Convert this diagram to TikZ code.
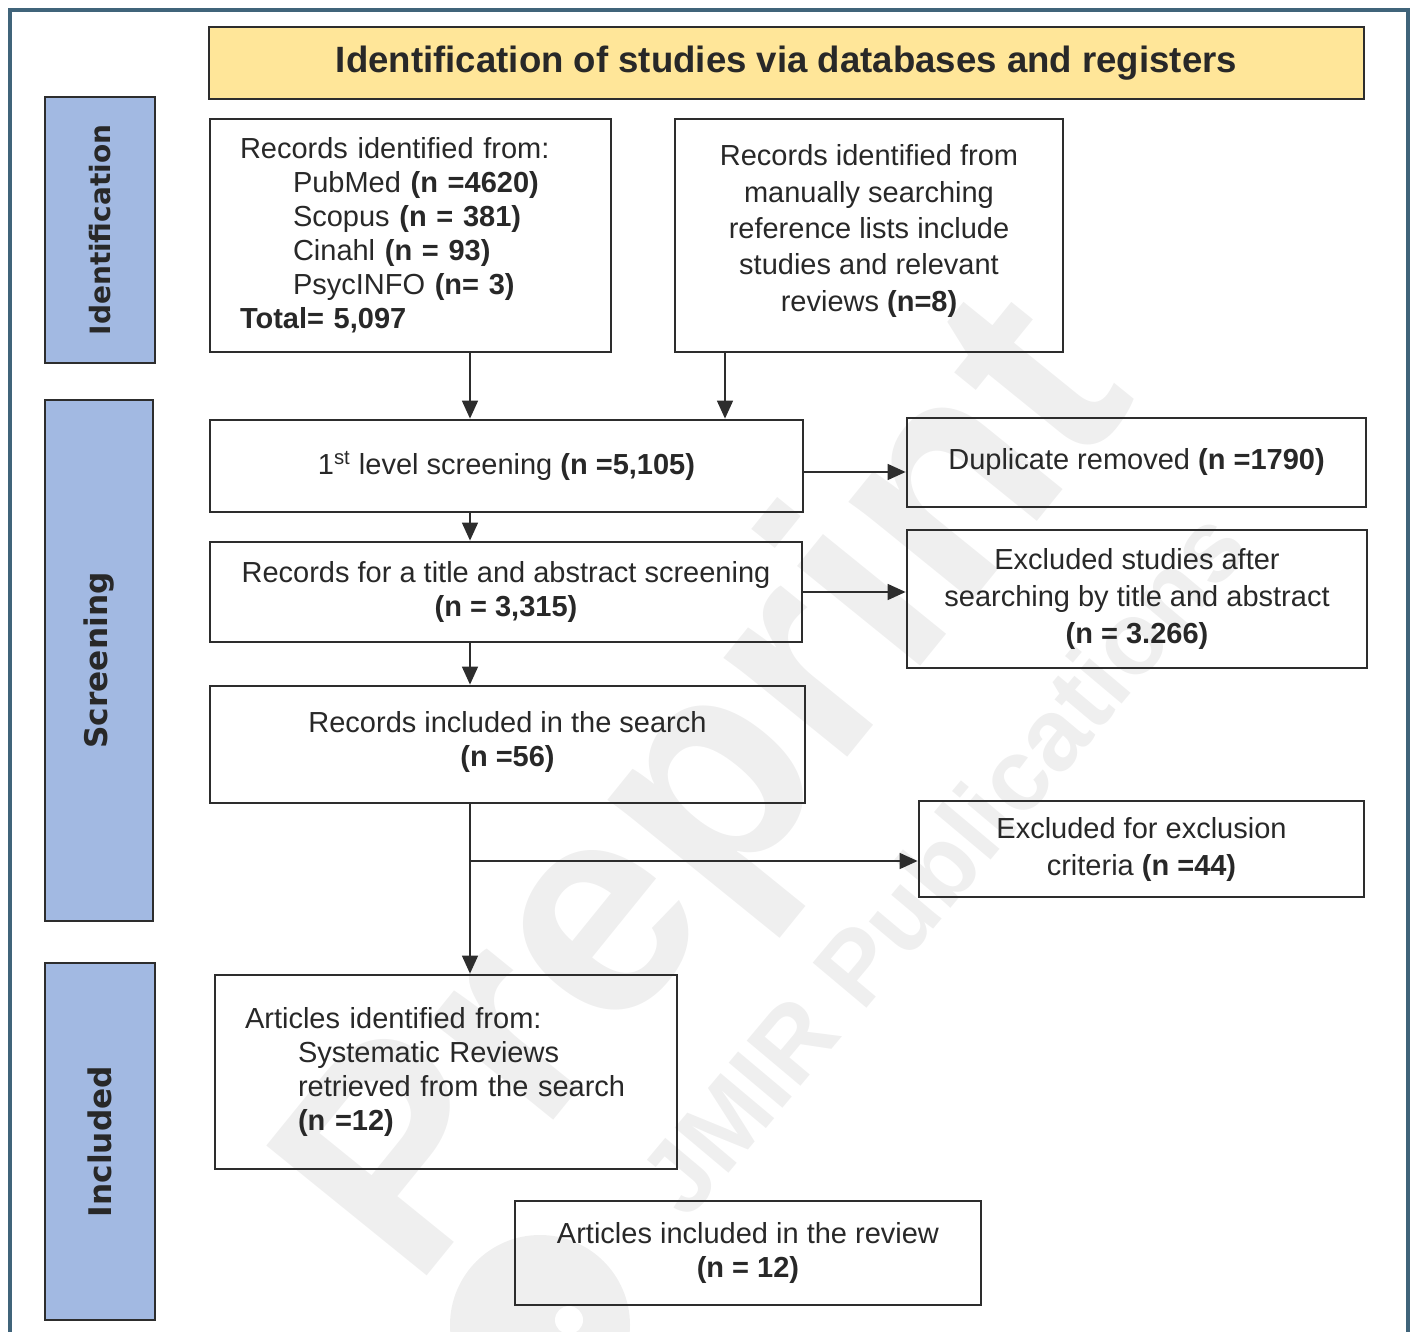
\documentclass[tikz,border=0pt]{standalone}
\usepackage{fontspec}
\setmainfont{Liberation Sans}
\newfontfamily\sidefont{DejaVu Sans}
\usetikzlibrary{positioning, calc, arrows.meta}
\definecolor{framebl}{RGB}{64,100,122}
\definecolor{headyel}{RGB}{255,230,153}
\definecolor{sideblue}{RGB}{162,185,226}
\definecolor{boxline}{RGB}{45,45,45}
\definecolor{txtgrey}{RGB}{40,40,40}
\definecolor{wmgrey}{RGB}{239,239,239}
\tikzset{
    flowbox/.style={
        draw=boxline, line width=1.4pt, align=center, inner sep=4pt,
        text=txtgrey, font=\fontsize{14.5}{17}\selectfont
    },
    headbox/.style={
        draw=boxline, line width=1.4pt, fill=headyel, text=txtgrey,
        font=\bfseries\fontsize{18.3}{20}\selectfont
    },
    sidebox/.style={
        draw=boxline, line width=1.4pt, fill=sideblue, rotate=90, text=txtgrey,
        font=\sidefont\bfseries\fontsize{15.6}{17}\selectfont
    },
    ptr/.style={
        -{Triangle[length=9pt,width=8pt]}, line width=0.8pt, boxline
    },
    wmark/.style={
        text=wmgrey, font=\bfseries, inner sep=0pt
    }
}

\begin{document}
\begin{tikzpicture}[x=0.5pt, y=-0.5pt]
        \useasboundingbox (0,0) rectangle (1414,1332);
        \clip (0,0) rectangle (1414,1332);

        % watermark
        \node[wmark, rotate=51, font=\bfseries\fontsize{150}{150}\selectfont] (wmpre) at (716,796) {Preprint};
        \node[wmark, rotate=50, font=\bfseries\fontsize{51}{51}\selectfont] (wmpub) at (942,862) {JMIR Publications};
        \fill[wmgrey] (540,1325) circle (45pt);
        \fill[white] (569,1320) circle (7pt);

        % outer frame
        \draw[framebl, line width=2pt] (10,10) rectangle (1408,1350);

        % header and stage labels
        \node[headbox, minimum width=577.5pt, minimum height=36pt] (head) at (786.5,63) {Identification of studies via databases and registers};
        \node[sidebox, minimum width=133pt, minimum height=55pt, font=\sidefont\bfseries\fontsize{14}{16}\selectfont] (sideid) at (100,230) {Identification};
        \node[sidebox, minimum width=260.5pt, minimum height=54pt] (sidesc) at (99,660.5) {Screening};
        \node[sidebox, minimum width=178.5pt, minimum height=55pt] (sidein) at (100,1141.5) {Included};

        % identification
        \node[flowbox, align=left, text width=170.5pt, inner xsep=15pt, minimum height=116.5pt] (dbrec) at (410.5,235.5)
            {Records identified from:\\
             \hspace*{26.5pt}PubMed \textbf{(n =4620)}\\
             \hspace*{26.5pt}Scopus \textbf{(n = 381)}\\
             \hspace*{26.5pt}Cinahl \textbf{(n = 93)}\\
             \hspace*{26.5pt}PsycINFO \textbf{(n= 3)}\\
             \textbf{Total= 5,097}};
        \node[flowbox, minimum width=194pt, minimum height=116.5pt, font=\fontsize{14.5}{18.2}\selectfont] (manrec) at (869,235.5)
            {Records identified from\\ manually searching\\ reference lists include\\ studies and relevant\\ reviews \textbf{(n=8)}\\[-10.7pt]\mbox{}};

        % screening
        \node[flowbox, minimum width=296.5pt, minimum height=46pt] (scr1) at (506.5,466)
            {1\textsuperscript{st} level screening \textbf{(n =5,105)}};
        \node[flowbox, minimum width=229.5pt, minimum height=44.5pt] (dup) at (1136.5,462.5)
            {Duplicate removed \textbf{(n =1790)}};
        \node[flowbox, minimum width=296pt, minimum height=50pt] (scr2) at (506,592)
            {Records for a title and abstract screening\\ \textbf{(n = 3,315)}};
        \node[flowbox, minimum width=230pt, minimum height=69pt, font=\fontsize{14.5}{18.5}\selectfont] (excl1) at (1137,599)
            {Excluded studies after\\ searching by title and abstract\\ \textbf{(n = 3.266)}};
        \node[flowbox, minimum width=297.5pt, minimum height=58.5pt] (incs) at (507.5,744.5)
            {Records included in the search\\ \textbf{(n =56)}\\[-11pt]\mbox{}};
        \node[flowbox, minimum width=222.5pt, minimum height=48pt, font=\fontsize{14.5}{18.5}\selectfont] (excl2) at (1141.5,849)
            {Excluded for exclusion\\ criteria \textbf{(n =44)}};

        % included
        \node[flowbox, align=left, text width=201pt, inner xsep=15pt, minimum height=97pt] (artid) at (446,1072)
            {Articles identified from:\\
             \hspace*{26.5pt}Systematic Reviews\\
             \hspace*{26.5pt}retrieved from the search\\
             \hspace*{26.5pt}\textbf{(n =12)}};
        \node[flowbox, minimum width=233pt, minimum height=52pt] (final) at (748,1253)
            {Articles included in the review\\ \textbf{(n = 12)}};

        % connectors
        \coordinate (spine) at (470,0);
        \coordinate (bdrop) at (725,0);
        \coordinate (dupy) at (0,472);
        \coordinate (branch) at (470,861);
        \draw[ptr] (dbrec.south -| spine) -- (scr1.north -| spine);
        \draw[ptr] (manrec.south -| bdrop) -- (scr1.north -| bdrop);
        \draw[ptr] (scr1.south -| spine) -- (scr2.north -| spine);
        \draw[ptr] (scr2.south -| spine) -- (incs.north -| spine);
        \draw[ptr] (incs.south -| spine) -- (artid.north -| spine);
        \draw[ptr] (scr1.east |- dupy) -- (dup.west |- dupy);
        \draw[ptr] (scr2.east) -- (excl1.west |- scr2.east);
        \draw[ptr] (branch) -- (excl2.west |- branch);

\end{tikzpicture}
\end{document}
